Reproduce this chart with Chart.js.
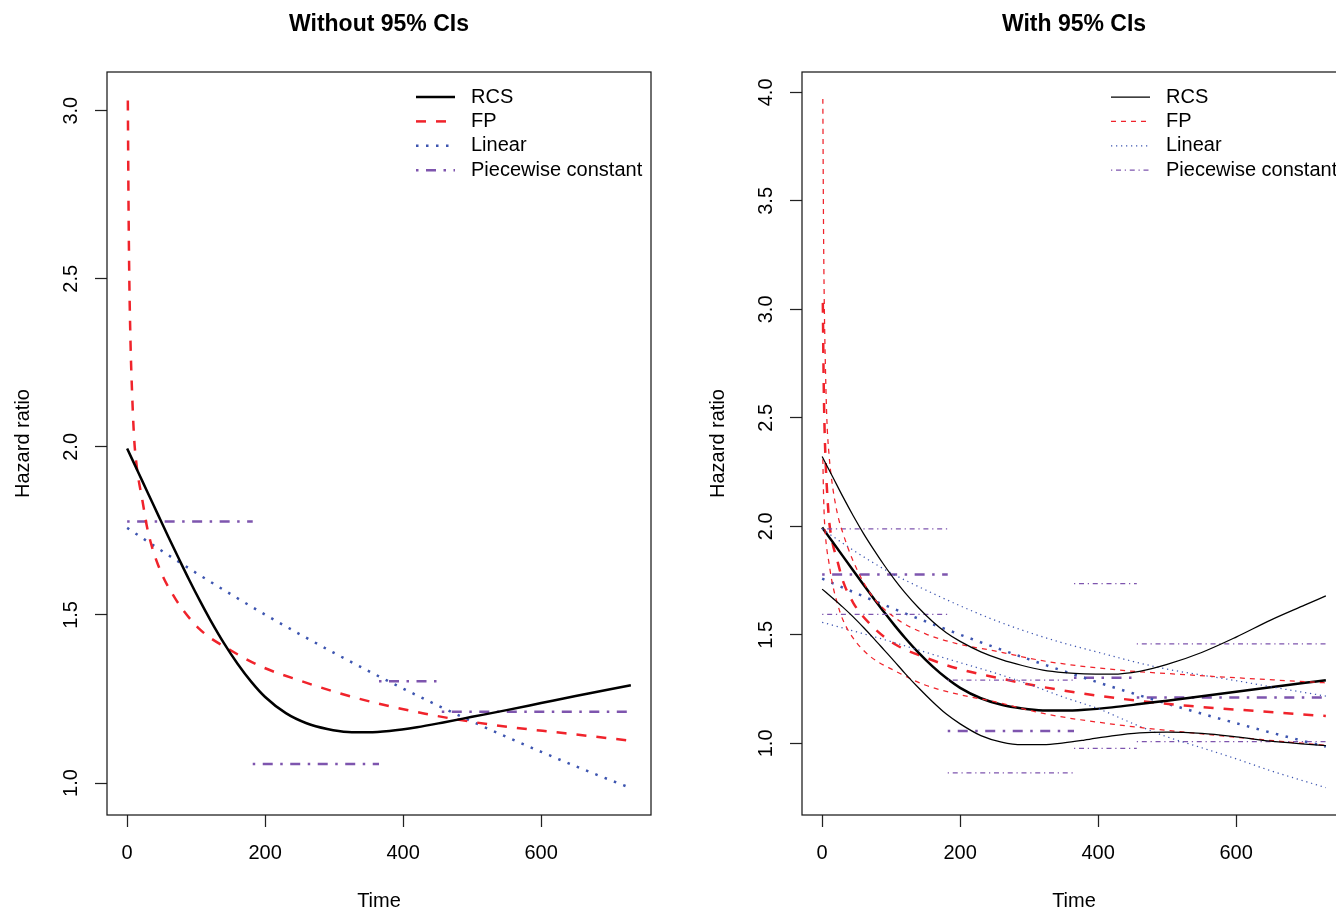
<!DOCTYPE html>
<html>
<head>
<meta charset="utf-8">
<script src="https://cdn.jsdelivr.net/npm/chart.js@4.4.1/dist/chart.umd.min.js"></script>
<style>
html, body { margin: 0; padding: 0; background: #fff; overflow: hidden; }
.panel { position: absolute; top: 0; width: 695px; height: 909px; }
</style>
</head>
<body>
<div class="panel" style="left:0"><canvas id="left" width="695" height="909"></canvas></div>
<div class="panel" style="left:695px"><canvas id="right" width="695" height="909"></canvas></div>
<script>
// ---- data ----
const xTicks = [0, 200, 400, 600];
const yTicksLeft = [1.0, 1.5, 2.0, 2.5, 3.0];
const yTicksRight = [1.0, 1.5, 2.0, 2.5, 3.0, 3.5, 4.0];
const seriesNames = ["RCS", "FP", "Linear", "Piecewise constant"];

// restricted cubic spline
const rcsTime = [0, 15, 30, 45, 60, 75, 90, 105, 120, 140, 160, 180, 200, 230, 260, 290, 320, 350, 380, 420, 460, 500, 550, 600, 650, 700, 730];
const rcsHR = [1.995, 1.929, 1.863, 1.797, 1.731, 1.667, 1.604, 1.544, 1.487, 1.417, 1.355, 1.301, 1.256, 1.208, 1.178, 1.161, 1.152, 1.151, 1.155, 1.166, 1.181, 1.197, 1.217, 1.238, 1.259, 1.279, 1.291];
const rcsLower = [1.711, 1.670, 1.628, 1.583, 1.534, 1.483, 1.430, 1.377, 1.323, 1.255, 1.192, 1.135, 1.090, 1.036, 1.006, 0.994, 0.994, 1.002, 1.015, 1.035, 1.049, 1.052, 1.046, 1.030, 1.010, 0.997, 0.990];
const rcsUpper = [2.322, 2.230, 2.137, 2.049, 1.967, 1.892, 1.821, 1.755, 1.695, 1.624, 1.562, 1.510, 1.470, 1.422, 1.386, 1.359, 1.338, 1.326, 1.320, 1.319, 1.332, 1.364, 1.419, 1.490, 1.568, 1.638, 1.680];

// fractional polynomial
const fpTime = [1, 2, 3, 5, 7, 10, 14, 22, 30, 45, 70, 105, 150, 195, 250, 325, 430, 530, 635, 730];
const fpHR = [3.03, 2.72, 2.52, 2.30, 2.17, 2.03, 1.94, 1.842, 1.750, 1.648, 1.548, 1.458, 1.395, 1.346, 1.305, 1.257, 1.207, 1.173, 1.148, 1.126];
const fpLower = [2.31, 2.15, 2.05, 1.95, 1.89, 1.83, 1.75, 1.645, 1.57, 1.485, 1.40, 1.335, 1.268, 1.228, 1.192, 1.135, 1.085, 1.050, 1.018, 0.991];
const fpUpper = [3.97, 3.38, 3.05, 2.70, 2.48, 2.33, 2.21, 2.06, 1.97, 1.84, 1.69, 1.58, 1.505, 1.46, 1.426, 1.378, 1.338, 1.316, 1.296, 1.279];

// linear in time
const linTime = [0, 50, 100, 150, 200, 250, 300, 350, 400, 450, 500, 550, 600, 650, 700, 730];
const linHR = [1.759, 1.691, 1.625, 1.562, 1.501, 1.443, 1.387, 1.333, 1.281, 1.231, 1.183, 1.137, 1.093, 1.050, 1.009, 0.985];
const linLower = [1.558, 1.514, 1.469, 1.420, 1.372, 1.325, 1.272, 1.213, 1.160, 1.092, 1.030, 0.980, 0.929, 0.874, 0.825, 0.796];
const linUpper = [1.988, 1.880, 1.785, 1.707, 1.634, 1.568, 1.511, 1.462, 1.420, 1.378, 1.342, 1.315, 1.289, 1.261, 1.234, 1.218];

// piecewise constant
const pwBreaks = [0, 182, 365, 456, 730];
const pwHR = [1.778, 1.057, 1.303, 1.212];
const pwLower = [1.595, 0.864, 0.977, 1.008];
const pwUpper = [1.988, 1.291, 1.736, 1.459];

// ---- styling ----
const FONT = '"Liberation Sans", Arial, Helvetica, sans-serif';
const COLORS = ["#000000", "#f0232b", "#3d55b0", "#7e55ae"];

function ltys(lwd) {
    const u = 1.25 * lwd;
    return [[], [4 * u, 4 * u], [u, 3 * u], [u, 3 * u, 4 * u, 3 * u]];
}

function pts(xs, ys) {
    return xs.map((x, i) => ({ x: x, y: ys[i] }));
}

function steps(breaks, vals) {
    const out = [];
    vals.forEach((v, i) => {
        out.push({ x: breaks[i], y: v }, { x: breaks[i + 1], y: v }, { x: breaks[i + 1], y: null });
    });
    return out;
}

function ds(data, k, lwd, smooth) {
    return {
        data: data,
        borderColor: COLORS[k],
        borderWidth: 1.25 * lwd,
        borderDash: ltys(lwd)[k],
        pointRadius: 0,
        fill: false,
        spanGaps: false,
        tension: 0,
        cubicInterpolationMode: smooth ? "monotone" : "default"
    };
}

function estimates(lwd) {
    return [
        ds(pts(rcsTime, rcsHR), 0, lwd, true),
        ds(pts(fpTime, fpHR), 1, lwd, true),
        ds(pts(linTime, linHR), 2, lwd, true),
        ds(steps(pwBreaks, pwHR), 3, lwd, false)
    ];
}

function intervals() {
    return [
        ds(pts(rcsTime, rcsLower), 0, 1, true),
        ds(pts(rcsTime, rcsUpper), 0, 1, true),
        ds(pts(fpTime, fpLower), 1, 1, true),
        ds(pts(fpTime, fpUpper), 1, 1, true),
        ds(pts(linTime, linLower), 2, 1, true),
        ds(pts(linTime, linUpper), 2, 1, true),
        ds(steps(pwBreaks, pwLower), 3, 1, false),
        ds(steps(pwBreaks, pwUpper), 3, 1, false)
    ];
}

function legendItems(lwd) {
    return seriesNames.map((name, k) => ({
        label: name, color: COLORS[k], width: 1.25 * lwd, dash: ltys(lwd)[k]
    }));
}

const axisFont = { family: FONT, size: 20 };
const titleFont = { family: FONT, size: 20, lineHeight: 0.8 };
const tickGrid = { drawOnChartArea: false, tickLength: 12, tickColor: "#222", tickWidth: 1.25 };

function xScale() {
    return {
        type: "linear", min: -29.2, max: 759.2, bounds: "data",
        afterBuildTicks: s => { s.ticks = xTicks.map(v => ({ value: v })); },
        afterFit: s => { s.height = 94; },
        ticks: { font: axisFont, color: "#000", padding: 14, autoSkip: false, maxRotation: 0, callback: v => String(v) },
        grid: tickGrid,
        border: { display: false },
        title: { display: true, text: "Time", font: titleFont, color: "#000", padding: { top: 0, bottom: 0 } }
    };
}

function yScale(min, max, ticks) {
    return {
        type: "linear", min: min, max: max, bounds: "data",
        afterBuildTicks: s => { s.ticks = ticks.map(v => ({ value: v })); },
        afterFit: s => { s.width = 107; },
        ticks: { font: axisFont, color: "#000", padding: 10, autoSkip: false, minRotation: 90, maxRotation: 90, crossAlign: "center", callback: v => v.toFixed(1) },
        grid: tickGrid,
        border: { display: false },
        title: { display: true, text: "Hazard ratio", font: titleFont, color: "#000", padding: { top: 15, bottom: 0 } }
    };
}

// box, main title and legend drawn like base R graphics
const rFrame = {
    id: "rFrame",
    afterDatasetsDraw(chart, args, opts) {
        const { ctx, chartArea: a } = chart;
        ctx.save();
        ctx.setLineDash([]);
        ctx.strokeStyle = "#1a1a1a";
        ctx.lineWidth = 1.25;
        ctx.strokeRect(a.left, a.top, a.right - a.left, a.bottom - a.top);

        ctx.fillStyle = "#000";
        ctx.font = "bold 23px " + FONT;
        ctx.textAlign = "center";
        ctx.textBaseline = "middle";
        ctx.fillText(opts.title, (a.left + a.right) / 2, 25);

        ctx.font = "20px " + FONT;
        ctx.textAlign = "left";
        opts.items.forEach((it, i) => {
            const y = a.top + 25 + i * 24.4;
            const x0 = a.right - 235;
            ctx.beginPath();
            ctx.strokeStyle = it.color;
            ctx.lineWidth = it.width;
            ctx.setLineDash(it.dash);
            ctx.moveTo(x0, y);
            ctx.lineTo(x0 + 39, y);
            ctx.stroke();
            ctx.fillText(it.label, x0 + 55, y);
        });
        ctx.restore();
    }
};

function makeChart(id, datasets, yMin, yMax, yTicks, title, lwd) {
    return new Chart(document.getElementById(id), {
        type: "line",
        data: { datasets: datasets },
        plugins: [rFrame],
        options: {
            responsive: false,
            animation: false,
            events: [],
            layout: { padding: { left: 0, top: 72, right: 44, bottom: 0 } },
            scales: { x: xScale(), y: yScale(yMin, yMax, yTicks) },
            plugins: {
                legend: { display: false },
                tooltip: { enabled: false },
                rFrame: { title: title, items: legendItems(lwd) }
            }
        }
    });
}

makeChart("left", estimates(2), 0.905, 3.115, yTicksLeft, "Without 95% CIs", 2);
makeChart("right", intervals().concat(estimates(2)), 0.67, 4.094, yTicksRight, "With 95% CIs", 1);
</script>
</body>
</html>
